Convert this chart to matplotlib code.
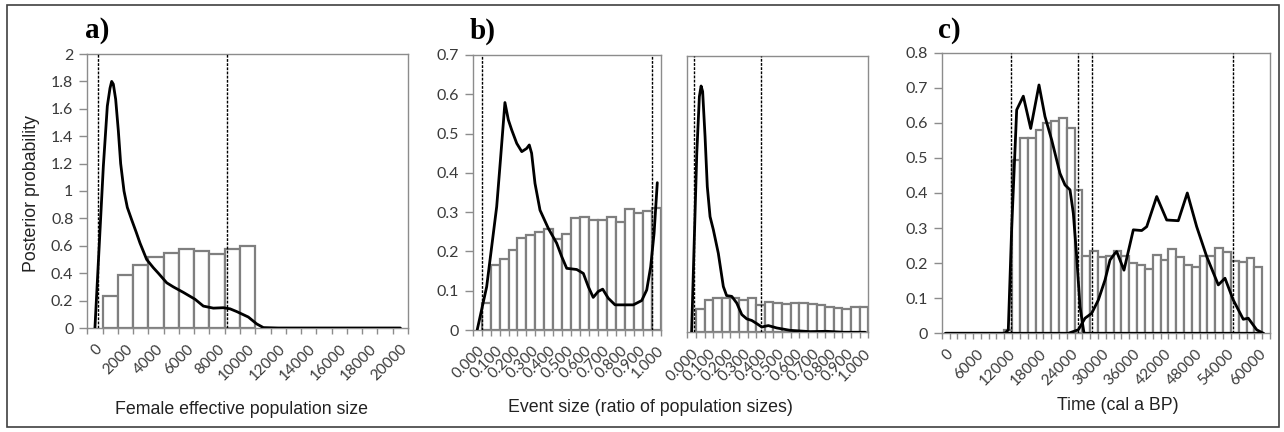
import matplotlib
matplotlib.use("Agg")
import matplotlib.pyplot as plt
from matplotlib.patches import Rectangle

# ---------------- data ----------------
# Panel a: female effective population size
a_bar_x = [1000, 2000, 3000, 4000, 5000, 6000, 7000, 8000, 9000, 10000]
a_bar_h = [0.23, 0.39, 0.46, 0.52, 0.545, 0.58, 0.565, 0.54, 0.575, 0.60]
a_curve_x = [0, 550, 811, 986, 1096, 1204, 1357, 1532, 1685, 1903, 2121, 2405,
             2700, 2951, 3388, 3824, 4151, 4700, 5134, 5789, 6553, 7098, 7753,
             8408, 8845, 9282, 10045, 10591, 11028, 12000, 20000]
a_curve_y = [0, 1.18, 1.62, 1.75, 1.80, 1.78, 1.67, 1.44, 1.20, 1.00, 0.88, 0.79,
             0.70, 0.62, 0.50, 0.44, 0.40, 0.33, 0.30, 0.26, 0.21, 0.16, 0.145,
             0.148, 0.14, 0.12, 0.08, 0.03, 0.003, 0, 0]
a_dash = [180, 8630]
a_ticks = [0, 2000, 4000, 6000, 8000, 10000, 12000, 14000, 16000, 18000, 20000]
a_ticklabels = ["0", "2000", "4000", "6000", "8000", "10000", "12000", "14000",
                "16000", "18000", "20000"]
a_yticks = [0, 0.2, 0.4, 0.6, 0.8, 1.0, 1.2, 1.4, 1.6, 1.8, 2.0]
a_yticklabels = ["0", "0.2", "0.4", "0.6", "0.8", "1", "1.2", "1.4", "1.6", "1.8", "2"]

# Panel b (left): event size
bL_bar_x = [0.05, 0.10, 0.15, 0.20, 0.25, 0.30, 0.35, 0.40, 0.45, 0.50,
            0.55, 0.60, 0.65, 0.70, 0.75, 0.80, 0.85, 0.90, 0.95, 1.00]
bL_bar_h = [0.068, 0.165, 0.182, 0.204, 0.235, 0.242, 0.249, 0.258, 0.232, 0.244,
            0.284, 0.287, 0.280, 0.280, 0.288, 0.276, 0.308, 0.297, 0.304, 0.311]
bL_curve_x = [0.0, 0.053, 0.109, 0.13, 0.155, 0.174, 0.193, 0.221, 0.249, 0.276,
              0.291, 0.304, 0.323, 0.351, 0.397, 0.444, 0.472, 0.50, 0.556, 0.593,
              0.621, 0.648, 0.676, 0.701, 0.732, 0.77, 0.872, 0.919, 0.947, 0.969,
              0.988, 1.006]
bL_curve_y = [0.0, 0.11, 0.314, 0.433, 0.579, 0.535, 0.509, 0.475, 0.454, 0.462,
              0.471, 0.45, 0.373, 0.305, 0.259, 0.221, 0.187, 0.157, 0.154, 0.144,
              0.11, 0.083, 0.098, 0.104, 0.081, 0.064, 0.064, 0.075, 0.102, 0.161,
              0.246, 0.375]
bL_dash = [0.025, 0.975]

# Panel b (right)
bR_bar_x = bL_bar_x
bR_bar_h = [0.058, 0.083, 0.088, 0.088, 0.087, 0.082, 0.088, 0.070, 0.077, 0.075,
            0.071, 0.075, 0.075, 0.071, 0.068, 0.065, 0.062, 0.058, 0.063, 0.063]
bR_curve_x = [0.0, 0.03, 0.045, 0.055, 0.064, 0.078, 0.091, 0.107, 0.126, 0.155,
              0.184, 0.203, 0.233, 0.262, 0.291, 0.32, 0.349, 0.378, 0.407, 0.445,
              0.494, 0.571, 0.687, 0.784, 0.88, 1.006]
bR_curve_y = [0.0, 0.454, 0.597, 0.624, 0.61, 0.496, 0.369, 0.293, 0.26, 0.2,
              0.116, 0.093, 0.091, 0.074, 0.045, 0.034, 0.03, 0.022, 0.0135, 0.017,
              0.011, 0.005, 0.0017, 0.0025, 0.0, 0.0]
bR_dash = [0.014, 0.40]
b_ticks = [0.0, 0.1, 0.2, 0.3, 0.4, 0.5, 0.6, 0.7, 0.8, 0.9, 1.0]
b_ticklabels = ["0.000", "0.100", "0.200", "0.300", "0.400", "0.500", "0.600",
                "0.700", "0.800", "0.900", "1.000"]
b_yticks = [0, 0.1, 0.2, 0.3, 0.4, 0.5, 0.6, 0.7]
b_yticklabels = ["0", "0.1", "0.2", "0.3", "0.4", "0.5", "0.6", "0.7"]

# Panel c: time (cal a BP)
c_bar_x = [12000, 13500, 15000, 16500, 18000, 19500, 21000, 22500, 24000, 25500,
           27000, 28500, 30000, 31500, 33000, 34500, 36000, 37500, 39000, 40500,
           42000, 43500, 45000, 46500, 48000, 49500, 51000, 52500, 54000, 55500,
           57000, 58500, 60000]
c_bar_h = [0.01, 0.494, 0.556, 0.556, 0.581, 0.600, 0.605, 0.613, 0.584, 0.409,
           0.221, 0.235, 0.217, 0.22, 0.235, 0.22, 0.201, 0.195, 0.183, 0.223,
           0.209, 0.239, 0.217, 0.194, 0.19, 0.219, 0.22, 0.243, 0.232, 0.207,
           0.202, 0.216, 0.19]
c1_curve_x = [0, 11400, 12030, 12680, 13640, 14910, 16330, 17920, 19070, 20360,
              21950, 22910, 23870, 24510, 25150, 25790, 26560, 61000]
c1_curve_y = [0, 0, 0.01, 0.30, 0.637, 0.676, 0.584, 0.708, 0.618, 0.551,
              0.456, 0.423, 0.409, 0.342, 0.219, 0.076, 0, 0]
c2_curve_x = [0, 23550, 25470, 26750, 28030, 29310, 30590, 31550, 32500, 32830,
              34230, 36020, 37630, 38590, 40510, 42430, 44650, 46380, 48180,
              50100, 52330, 53610, 55200, 57120, 58080, 59700, 60960]
c2_curve_y = [0, 0, 0.01, 0.043, 0.057, 0.095, 0.152, 0.209, 0.228, 0.233,
              0.18, 0.295, 0.293, 0.304, 0.39, 0.323, 0.321, 0.40, 0.304,
              0.219, 0.138, 0.157, 0.095, 0.04, 0.043, 0.01, 0.0]
c_dash = [12490, 25470, 28040, 55200]
c_ticks = [0, 6000, 12000, 18000, 24000, 30000, 36000, 42000, 48000, 54000, 60000]
c_ticklabels = ["0", "6000", "12000", "18000", "24000", "30000", "36000", "42000",
                "48000", "54000", "60000"]
c_yticks = [0, 0.1, 0.2, 0.3, 0.4, 0.5, 0.6, 0.7, 0.8]
c_yticklabels = ["0", "0.1", "0.2", "0.3", "0.4", "0.5", "0.6", "0.7", "0.8"]

# ---------------- style ----------------
W, H = 1284, 432
TICK_FONT = "Lato"
TITLE_FONT = "Liberation Sans"
GRAY = "#8c8c8c"
BAR_EDGE = "#7f7f7f"
LABEL_COLOR = "#3a3a3a"

fig = plt.figure(figsize=(W / 100, H / 100), dpi=100)
fig.patches.append(Rectangle((7 / W, 5 / H), (1279 - 7) / W, (427 - 5) / H,
                             transform=fig.transFigure, fill=False,
                             ec="#404040", lw=1.2))


def px_axes(left, right, top, bottom):
    return fig.add_axes([left / W, 1 - bottom / H, (right - left) / W, (bottom - top) / H])


def style(ax, ncat, step, ticks, ticklabels, ylim, yticks=None, yticklabels=None):
    lo = -step / 2
    hi = lo + ncat * step
    ax.set_xlim(lo, hi)
    ax.set_ylim(*ylim)
    for s in ax.spines.values():
        s.set_color(GRAY)
        s.set_linewidth(1.0)
    # category boundary tick marks
    ax.set_xticks([lo + k * step for k in range(ncat + 1)], minor=True)
    ax.tick_params(axis="x", which="minor", length=4, width=1, color=GRAY, direction="out")
    ax.set_xticks(ticks)
    ax.set_xticklabels(ticklabels, rotation=45, ha="right", va="top",
                       rotation_mode="anchor", fontsize=11, family=TICK_FONT,
                       color=LABEL_COLOR)
    ax.tick_params(axis="x", which="major", length=0, pad=10)
    if yticks is not None:
        ax.set_yticks(yticks)
        ax.set_yticklabels(yticklabels, fontsize=11.5, family=TICK_FONT, color=LABEL_COLOR)
        ax.tick_params(axis="y", length=6, width=1, color=GRAY, pad=4)
    else:
        ax.set_yticks([])


def draw(ax, bx, bh, width, curves, dashes):
    ax.bar(bx, bh, width=width, color="white", edgecolor=BAR_EDGE, linewidth=1.6, zorder=2)
    for d in dashes:
        ax.axvline(d, color="black", lw=1.0, ls=(0, (2, 1)), zorder=3)
    for cx, cy in curves:
        ax.plot(cx, cy, color="black", lw=2.0, zorder=4, solid_joinstyle="round",
                solid_capstyle="round")


# Panel a
axA = px_axes(87.3, 408, 54, 328)
draw(axA, a_bar_x, a_bar_h, 1000, [(a_curve_x, a_curve_y)], a_dash)
style(axA, 21, 1000, a_ticks, a_ticklabels, (0, 2), a_yticks, a_yticklabels)

# Panel b left
axBL = px_axes(472.7, 660.7, 55, 330)
draw(axBL, bL_bar_x, bL_bar_h, 0.05, [(bL_curve_x, bL_curve_y)], bL_dash)
style(axBL, 21, 0.05, b_ticks, b_ticklabels, (0, 0.7), b_yticks, b_yticklabels)

# Panel b right
axBR = px_axes(687.3, 868.3, 56, 332.3)
draw(axBR, bR_bar_x, bR_bar_h, 0.05, [(bR_curve_x, bR_curve_y)], bR_dash)
style(axBR, 21, 0.05, b_ticks, b_ticklabels, (0, 0.7))

# Panel c
axC = px_axes(941.7, 1270, 52.7, 333.3)
draw(axC, c_bar_x, c_bar_h, 1500, [(c1_curve_x, c1_curve_y), (c2_curve_x, c2_curve_y)], c_dash)
style(axC, 42, 1500, c_ticks, c_ticklabels, (0, 0.8), c_yticks, c_yticklabels)

# Titles
TS = 12.8
fig.text(241.7 / W, 1 - 409 / H, "Female effective population size", ha="center",
         va="center", fontsize=TS, family=TITLE_FONT, color="#222222")
fig.text(650 / W, 1 - 407 / H, "Event size (ratio of population sizes)", ha="center",
         va="center", fontsize=TS, family=TITLE_FONT, color="#222222")
fig.text(1118 / W, 1 - 406 / H, "Time (cal a BP)", ha="center",
         va="center", fontsize=TS, family=TITLE_FONT, color="#222222")
fig.text(32 / W, 1 - 194 / H, "Posterior probability", ha="center", va="center",
         rotation=90, fontsize=TS, family=TITLE_FONT, color="#222222")

# Panel letters
for lbl, x in [("a)", 97), ("b)", 483), ("c)", 949)]:
    fig.text(x / W, 1 - 31 / H, lbl, ha="center", va="center", fontsize=21,
             family="Liberation Serif", weight="bold", color="black")

fig.savefig("out.png", dpi=100)
